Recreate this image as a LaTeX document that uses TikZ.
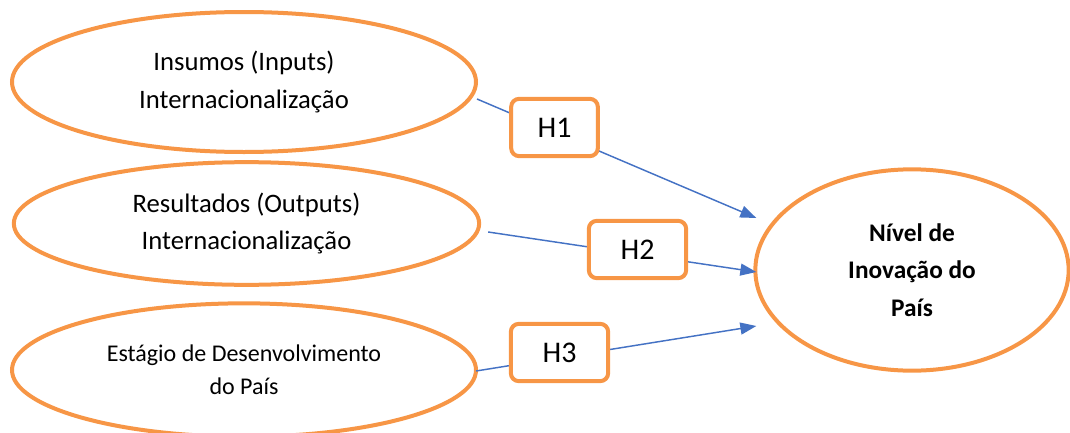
\documentclass[tikz,border=0pt]{standalone}
\usepackage{fontspec}
\setmainfont{Carlito}
\usepackage{tikz}
\usetikzlibrary{arrows.meta, positioning, calc, shapes.geometric}
\definecolor{hyporange}{HTML}{F79646}
\definecolor{linkblue}{HTML}{4472C4}
\tikzset{
  construct/.style={draw=hyporange, ellipse, line width=3pt, inner sep=0pt, align=center, fill=white, font=\fontsize{20}{28}\selectfont},
  hypo/.style={draw=hyporange, rounded corners=6pt, line width=3pt, fill=white, minimum height=43pt, font=\fontsize{22.5}{27}\selectfont},
  link/.style={-{Triangle[length=12pt, width=9pt]}, draw=linkblue, line width=1.1pt}
}

\begin{document}
\begin{tikzpicture}[x=0.75pt, y=-0.75pt]
        \useasboundingbox (0,0) rectangle (1070,432);

        % Constructs
        \node[construct, minimum width=348pt, minimum height=105pt] (insumos) at (244,82) {Insumos (Inputs)\\Internacionalização};
        \node[construct, minimum width=349pt, minimum height=92pt] (resultados) at (246.5,223.5) {Resultados (Outputs)\\Internacionalização};
        \node[construct, minimum width=348pt, minimum height=100pt, font=\fontsize{18}{24.75}\selectfont] (estagio) at (244,370) {Estágio de Desenvolvimento\\do País};
        \node[construct, minimum width=235pt, minimum height=151pt, font=\fontsize{19}{28}\selectfont\bfseries] (nivel) at (912,270) {Nível de\\Inovação do\\País};

        % Links
        \draw[link] ($(insumos.east)+(-1,17)$)    -- ($(nivel.west)+(3,-52)$);
        \draw[link] ($(resultados.east)+(7,8.5)$) -- ($(nivel.west)+(3,2)$);
        \draw[link] ($(estagio.east)+(-2,1)$)     -- ($(nivel.west)+(3,56)$);

        % Hypotheses
        \node[hypo, minimum width=65pt] (h1) at (554.5,127.5) {H1};
        \node[hypo, minimum width=73pt] (h2) at (637.5,249.5) {H2};
        \node[hypo, minimum width=73pt] (h3) at (559.5,352.5) {H3};
    \end{tikzpicture}
\end{document}
